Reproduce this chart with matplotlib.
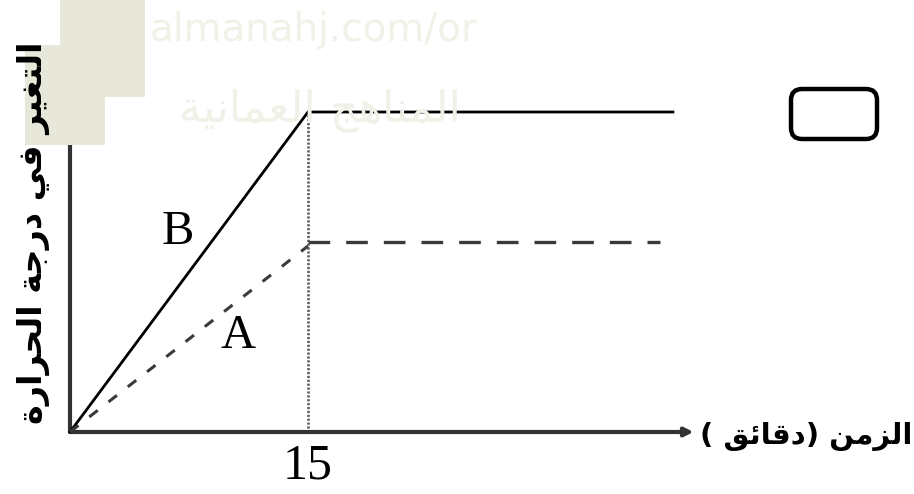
import matplotlib
matplotlib.use("Agg")
import matplotlib.pyplot as plt
from matplotlib.patches import FancyBboxPatch, Rectangle
import matplotlib.transforms as mtransforms

# ---------------- data ----------------
time_B = [0, 15, 38]
temp_B = [0, 32, 32]
time_A_rise = [0, 15]
temp_A_rise = [0, 18.6]
time_A_flat = [15, 37.2]
temp_A_flat = [19, 19]
marker_time = 15
x_axis_end = 39.3
y_axis_end = 38.8
ylabel_text = "التغير في درجة الحرارة"
xlabel_text = "الزمن (دقائق )"
tick_label = "15"

# ---------------- simple Arabic shaping ----------------
FORMS = {  # isolated, final, initial, medial
    'ا': ('\uFE8D', '\uFE8E', None, None),
    'ل': ('\uFEDD', '\uFEDE', '\uFEDF', '\uFEE0'),
    'ت': ('\uFE95', '\uFE96', '\uFE97', '\uFE98'),
    'غ': ('\uFECD', '\uFECE', '\uFECF', '\uFED0'),
    'ي': ('\uFEF1', '\uFEF2', '\uFEF3', '\uFEF4'),
    'ر': ('\uFEAD', '\uFEAE', None, None),
    'ف': ('\uFED1', '\uFED2', '\uFED3', '\uFED4'),
    'د': ('\uFEA9', '\uFEAA', None, None),
    'ج': ('\uFE9D', '\uFE9E', '\uFE9F', '\uFEA0'),
    'ة': ('\uFE93', '\uFE94', None, None),
    'ح': ('\uFEA1', '\uFEA2', '\uFEA3', '\uFEA4'),
    'ز': ('\uFEAF', '\uFEB0', None, None),
    'م': ('\uFEE1', '\uFEE2', '\uFEE3', '\uFEE4'),
    'ن': ('\uFEE5', '\uFEE6', '\uFEE7', '\uFEE8'),
    'ق': ('\uFED5', '\uFED6', '\uFED7', '\uFED8'),
    'ئ': ('\uFE89', '\uFE8A', '\uFE8B', '\uFE8C'),
    'ه': ('\uFEE9', '\uFEEA', '\uFEEB', '\uFEEC'),
    'ع': ('\uFEC9', '\uFECA', '\uFECB', '\uFECC'),
}


def dual(c):
    return c in FORMS and FORMS[c][2] is not None


def shape(text):
    out = []
    n = len(text)
    for i, c in enumerate(text):
        if c not in FORMS:
            out.append(c)
            continue
        prev_join = i > 0 and dual(text[i - 1])
        next_join = dual(c) and i < n - 1 and text[i + 1] in FORMS
        iso, fin, ini, med = FORMS[c]
        if prev_join and next_join:
            out.append(med)
        elif prev_join:
            out.append(fin)
        elif next_join:
            out.append(ini)
        else:
            out.append(iso)
    vis = ''.join(reversed(out))
    vis = vis.translate(str.maketrans({'(': ')', ')': '('}))
    return vis


# ---------------- figure ----------------
W, H, DPI = 914, 494, 100
fig = plt.figure(figsize=(W / DPI, H / DPI), dpi=DPI)
fig.patch.set_facecolor('white')

# pixel-based layout of the axes (origin at px (70, 432) from top-left)
ox, oy = 70, 432
px_per_min = (308 - 70) / 15.0
px_per_unit = 10.0
ax = fig.add_axes([0, 0, 1, 1])
ax.set_xlim(-ox / px_per_min, (W - ox) / px_per_min)
ax.set_ylim(-(H - oy) / px_per_unit, oy / px_per_unit)
ax.axis('off')

ident = mtransforms.IdentityTransform()

# watermark background boxes
for (x0, y0, w, h) in [(60, 0, 85, 97), (25, 45, 80, 100)]:
    fig.patches.append(Rectangle((x0, H - y0 - h), w, h, transform=ident,
                                 facecolor='#e8e8da', edgecolor='none', zorder=1))
fig.text(150 / W, 1 - 30 / H, "almanahj.com/or", ha='left', va='center',
         fontsize=28, color='#f1f1e8', family='DejaVu Sans', zorder=0)
fig.text(320 / W, 1 - 110 / H, shape("المناهج العمانية"), ha='center', va='center',
         fontsize=32, color='#f1f1e8', family='DejaVu Sans', zorder=0)

# axes with arrows
arrow_kw = dict(arrowstyle='-|>,head_length=0.5,head_width=0.25', color='#333333',
                lw=3, shrinkA=0, shrinkB=0)
ax.annotate('', xy=(x_axis_end, 0), xytext=(0, 0), arrowprops=arrow_kw, zorder=3)
ax.annotate('', xy=(0, y_axis_end), xytext=(0, 0), arrowprops=arrow_kw, zorder=3)

# vertical dotted marker
ax.plot([marker_time, marker_time], [0, temp_B[1]], color='#666666', lw=2.0,
        linestyle=(0, (0.8, 0.6)), zorder=2)

# line B
ax.plot(time_B, temp_B, color='black', lw=2.0, solid_joinstyle='miter', zorder=4)

# line A
ax.plot(time_A_rise, temp_A_rise, color='#3a3a3a', lw=2.2,
        linestyle=(0, (3.5, 4.5)), zorder=4)
ax.plot(time_A_flat, temp_A_flat, color='#3a3a3a', lw=2.4,
        linestyle=(0, (6.5, 4.8)), zorder=4)

# labels
serif = 'Liberation Serif'
ax.text(6.8, 20.0, 'B', ha='center', va='center', fontsize=35, family=serif, zorder=5)
ax.text(10.6, 9.6, 'A', ha='center', va='center', fontsize=35, family=serif, zorder=5)
ax.text(marker_time, -3.4, tick_label, ha='center', va='center', fontsize=36,
        family=serif, zorder=5)

fig.text(33 / W, 1 - 233 / H, shape(ylabel_text), rotation=90, ha='center', va='center',
         fontsize=24, fontweight='bold', family=['DejaVu Sans'], zorder=5)
fig.text(806 / W, 1 - 436 / H, shape(xlabel_text), ha='center', va='center',
         fontsize=21, fontweight='bold', family=['DejaVu Sans'], zorder=5)

# empty rounded box
fig.patches.append(FancyBboxPatch((791, H - 139), 86, 50,
                                  boxstyle='round,pad=0,rounding_size=11',
                                  transform=ident, facecolor='white',
                                  edgecolor='black', lw=3.2, zorder=5))

fig.savefig('out.png', dpi=DPI)
